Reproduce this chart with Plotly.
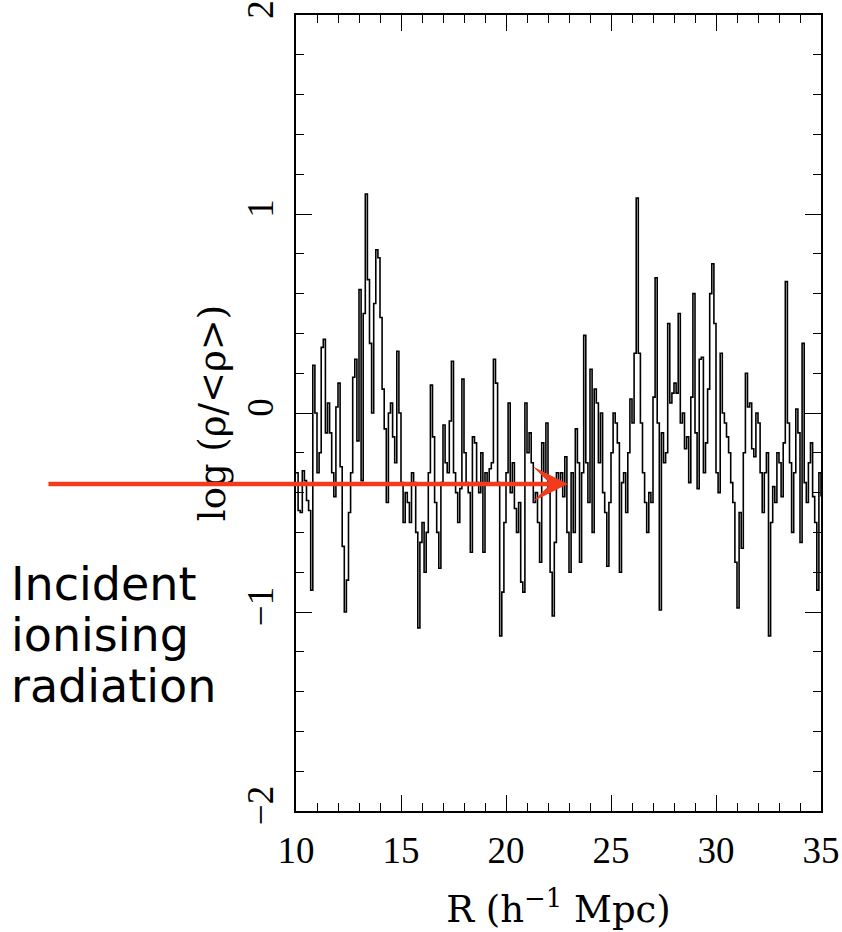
import numpy as np
import plotly.graph_objects as go

# distance along sightline (h^-1 Mpc), 0.1 Mpc bins
R = np.round(np.arange(10.0, 35.0001, 0.1), 1)

# log(rho/<rho>), one row per Mpc
logrho = [
    -0.30, -0.49, -0.50, -0.29, -0.34, -0.44, -0.49, -0.89, 0.24, 0.00,   # 10
    -0.30, -0.20, 0.33, 0.37, -0.10, 0.05, -0.10, -0.30, -0.42, 0.03,     # 11
    0.15, -0.27, -0.67, -1.00, -0.84, -0.50, -0.30, 0.18, 0.27, -0.14,    # 12
    0.62, -0.34, 0.50, 1.10, 0.67, 0.35, 0.00, 0.55, 0.82, 0.78,          # 13
    0.48, 0.12, -0.08, -0.45, 0.00, 0.05, -0.12, -0.25, 0.31, 0.00,       # 14
    -0.35, -0.55, -0.40, -0.45, -0.55, -0.30, -0.35, -0.60, -1.08, -0.65, # 15
    -0.55, -0.80, -0.60, -0.30, 0.14, -0.12, -0.45, -0.60, -0.78, -0.35,  # 16
    -0.06, -0.25, -0.30, -0.04, 0.26, -0.30, -0.40, -0.55, -0.38, 0.17,   # 17
    -0.20, -0.35, -0.40, -0.70, -0.12, -0.15, -0.35, -0.40, -0.20, -0.70, # 18
    -0.30, -0.35, -0.28, -0.25, 0.27, 0.15, -0.35, -1.12, -0.90, -0.55,   # 19
    -0.30, 0.05, -0.40, -0.25, -0.48, -0.60, -0.45, -0.85, -0.90, 0.05,   # 20
    -0.20, -0.10, -0.25, -0.45, -0.40, -0.55, -0.75, -0.15, -0.30, -0.05, # 21
    -0.40, -0.80, -1.02, -0.65, -0.30, -0.35, -0.30, -0.42, -0.22, -0.60, # 22
    -0.80, -0.30, -0.60, -0.08, -0.25, -0.75, -0.30, 0.39, -0.25, -0.45,  # 23
    0.22, -0.60, 0.12, 0.05, -0.25, 0.00, -0.40, -0.50, -0.77, -0.45,     # 24
    -0.20, 0.00, -0.05, -0.15, -0.80, -0.35, -0.30, -0.50, -0.20, 0.07,   # 25
    -0.05, 0.30, 1.08, 0.30, -0.05, -0.30, -0.45, -0.60, -0.40, -0.45,    # 26
    0.08, 0.68, -0.05, -0.99, -0.10, -0.25, -0.20, 0.45, 0.05, 0.10,      # 27
    0.15, 0.10, 0.50, -0.05, 0.00, -0.18, -0.12, -0.35, 0.08, 0.60,       # 28
    -0.10, -0.38, 0.27, 0.28, -0.30, -0.15, 0.12, 0.60, 0.75, 0.45,       # 29
    -0.30, -0.40, 0.30, 0.00, -0.05, -0.12, -0.20, -0.35, -0.45, -0.75,   # 30
    -0.98, -0.50, -0.68, -0.20, 0.20, 0.03, 0.05, -0.18, -0.22, 0.00,     # 31
    -0.05, -0.30, -0.50, -0.30, -0.20, -1.12, -0.55, -0.37, -0.45, -0.20, # 32
    -0.25, -0.42, -0.15, 0.66, -0.05, -0.25, -0.60, -0.30, 0.02, -0.10,   # 33
    -0.65, 0.35, -0.35, -0.45, -0.25, -0.15, -0.42, -0.55, -0.89, -0.30,  # 34
    -0.42,                                                                # 35
]

x_ticks = [10, 15, 20, 25, 30, 35]
y_ticks = [-2, -1, 0, 1, 2]
y_ticktext = ["\u22122", "\u22121", "0", "1", "2"]

label_lines = ["Incident", "ionising", "radiation"]
arrow_tip = (22.95, -0.357)

TICKFONT = dict(family="Liberation Serif", size=37, color="black")
TITLEFONT = dict(family="DejaVu Serif", size=37, color="black")

fig = go.Figure()
fig.add_trace(go.Scatter(
    x=R, y=logrho, mode="lines", line=dict(color="black", width=1.6, shape="hv"),
    showlegend=False, hoverinfo="skip",
))

axis_common = dict(
    showgrid=False, zeroline=False, showline=True, linecolor="black", linewidth=1.5,
    mirror="allticks", ticks="inside", ticklen=16, tickwidth=1.2, tickcolor="black",
    tickfont=TICKFONT, automargin=False,
)

fig.update_xaxes(
    range=[10, 35], tickvals=x_ticks, ticktext=[str(v) for v in x_ticks],
    minor=dict(dtick=1, ticks="inside", ticklen=8, tickwidth=1.2, tickcolor="black"),
    ticklabelstandoff=6,
    title=dict(text="R (h<sup>\u22121</sup> Mpc)", font=TITLEFONT, standoff=26),
    **axis_common,
)
fig.update_yaxes(
    range=[-2, 2], tickvals=y_ticks, ticktext=y_ticktext, tickangle=-90,
    minor=dict(dtick=0.2, ticks="inside", ticklen=8, tickwidth=1.2, tickcolor="black"),
    ticklabelstandoff=6,
    title=dict(text="log (\u03c1/&lt;\u03c1&gt;)", font=TITLEFONT, standoff=4),
    **axis_common,
)

annotations = [
    dict(x=arrow_tip[0], y=arrow_tip[1], xref="x", yref="y", ax=-521, ay=0,
         axref="pixel", ayref="pixel", text="", showarrow=True, arrowhead=3,
         arrowsize=1.3, arrowwidth=4.5, arrowcolor="#f23a1c", standoff=0),
]
for txt, yp in zip(label_lines, [0.285, 0.221, 0.157]):
    annotations.append(dict(
        x=-0.546, y=yp, xref="paper", yref="paper", xanchor="left", yanchor="middle",
        text=txt, showarrow=False, align="left",
        font=dict(family="DejaVu Sans", size=46, color="black"),
    ))

fig.update_layout(
    width=842, height=932,
    margin=dict(l=296, r=21, t=15, b=121),
    plot_bgcolor="white", paper_bgcolor="white",
    annotations=annotations,
)

fig.write_html("out.html")
